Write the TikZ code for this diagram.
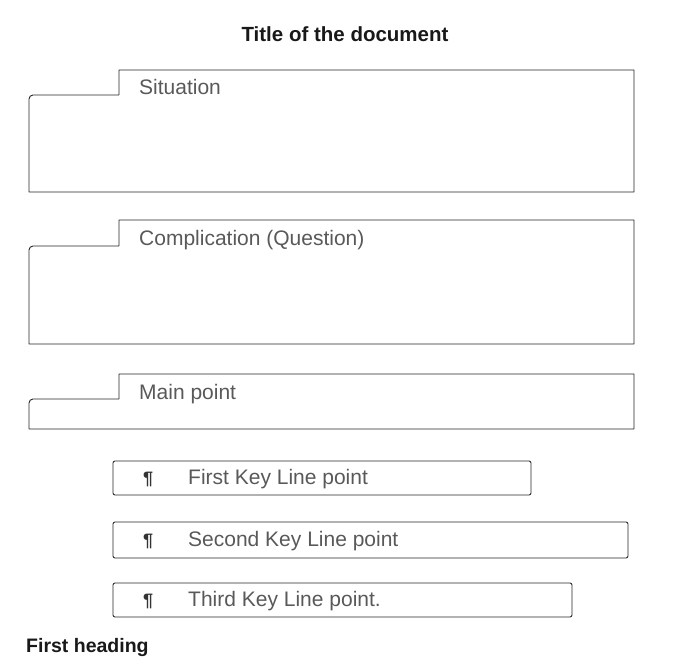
\documentclass[tikz,border=0pt]{standalone}
\usepackage{fontspec}
\setmainfont{Liberation Sans}
\begin{document}
\begin{tikzpicture}[x=1pt,y=-1pt,
  frame/.style={draw=black!85,line width=0.9pt,line join=round},
  head/.style={inner sep=0pt,font=\fontsize{20.5}{25}\selectfont\bfseries,text=black!90},
  label/.style={inner sep=0pt,anchor=base west,font=\fontsize{21}{25}\selectfont,text=black!65},
  pil/.style={inner sep=0pt,anchor=base west,font=\fontsize{18}{22}\selectfont\bfseries,text=black!80}]
\useasboundingbox (0,0) rectangle (675,671);
\node[head,anchor=base] (title) at (345,42) {Title of the document};
% Situation
\draw[frame] (119,95) -- (119,70) -- (634,70) -- (634,192) -- (29,192)
  [rounded corners=4pt] -- (29,95) -- (119,95);
\node[label] (sit) at (139,95) {Situation};
% Complication
\draw[frame] (119,246) -- (119,220) -- (634,220) -- (634,344) -- (29,344)
  [rounded corners=4pt] -- (29,246) -- (119,246);
\node[label] (comp) at (139,246) {Complication (Question)};
% Main point
\draw[frame] (119,399) -- (119,374) -- (634,374) -- (634,429) -- (29,429)
  [rounded corners=4pt] -- (29,399) -- (119,399);
\node[label] (main) at (139,399) {Main point};
% Key line boxes
\draw[frame,rounded corners=2pt] (113,461) rectangle (531,495);
\node[pil] (p1) at (143,484) {¶};
\node[label] (k1) at (188,484) {First Key Line point};
\draw[frame,rounded corners=2pt] (113,522) rectangle (628,558);
\node[pil] (p2) at (143,546) {¶};
\node[label] (k2) at (188,546) {Second Key Line point};
\draw[frame,rounded corners=2pt] (113,583) rectangle (572,617);
\node[pil] (p3) at (143,606) {¶};
\node[label] (k3) at (188,606) {Third Key Line point.};
\node[head,anchor=base west,font=\fontsize{19.5}{23}\selectfont\bfseries] (fh) at (26,652) {First heading};
\end{tikzpicture}
\end{document}
